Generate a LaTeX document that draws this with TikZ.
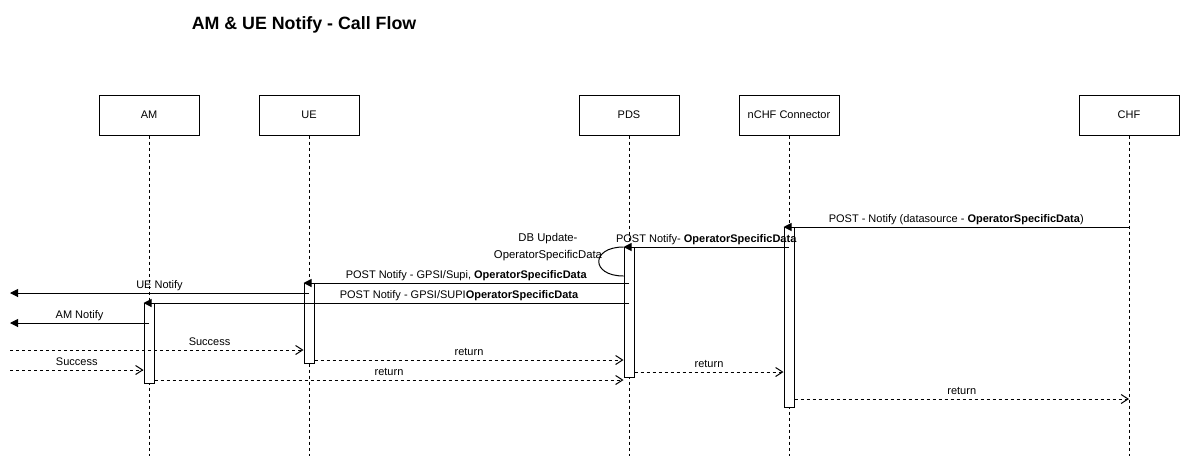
\documentclass[tikz,border=0pt]{standalone}
\usepackage{fontspec}
\setmainfont{Liberation Sans}
\usetikzlibrary{arrows.meta, positioning}

\begin{document}
\begin{tikzpicture}[
  x=1pt, y=-1pt,
  font=\fontsize{11}{13}\selectfont,
  actor/.style={rectangle, draw, line width=1pt, minimum width=100pt,
    minimum height=40pt, inner sep=0pt},
  act/.style={rectangle, draw, line width=1pt, fill=white, minimum width=10pt,
    inner sep=0pt, anchor=north},
  life/.style={line width=1pt, dash pattern=on 3pt off 3pt},
  msg/.style={-{Triangle[length=8pt, width=8pt]}, line width=1pt},
  ret/.style={-{Straight Barb[length=7pt, width=9pt, line width=1pt]}, line width=1pt,
    dash pattern=on 3pt off 3pt},
  lbl/.style={anchor=base, inner sep=0pt, yshift=4.5pt},
]
\useasboundingbox (0,0) rectangle (1180,456);

% Titel
\node[font=\fontsize{17.8}{20}\selectfont\bfseries] (title) at (304,25) {AM \& UE Notify - Call Flow};

% Teilnehmer
\node[actor] (am) at (149,115) {AM};
\node[actor] (ue) at (309,115) {UE};
\node[actor] (pds) at (629,115) {PDS};
\node[actor] (nchf) at (789,115) {nCHF Connector};
\node[actor] (chf) at (1129,115) {CHF};

% Lebenslinien
\foreach \p in {am, ue, pds, nchf, chf}
  \draw[life] (\p.south) -- (\p |- 0,456);

% Aktivierungen
\node[act, minimum height=180pt] (nchfAct) at (789,227) {};
\node[act, minimum height=130pt] (pdsAct) at (629,247) {};
\node[act, minimum height=80pt] (ueAct) at (309,283) {};
\node[act, minimum height=80pt] (amAct) at (149,303) {};

% freie Enden links
\coordinate (ueOut) at (10,293);
\coordinate (amOut) at (10,323);
\coordinate (ueIn) at (10,350);
\coordinate (amIn) at (10,370);
\path ([yshift=4pt]ueAct.south east) coordinate (ueRet);
\path ([yshift=4pt]amAct.south east) coordinate (amRet);
\path ([yshift=6pt]pdsAct.south east) coordinate (pdsRet);
\path ([yshift=9pt]nchfAct.south east) coordinate (nchfRet);
\path ([yshift=-29pt]pdsAct.north west) coordinate (dbEnd);

% Nachrichten
\draw[msg] (chf |- nchfAct.north) -- (nchfAct.north west)
  node[lbl, midway] {POST - Notify (datasource - \textbf{OperatorSpecificData})};
\draw[msg] (nchf |- pdsAct.north) -- (pdsAct.north west)
  node[lbl, midway] {POST Notify- \textbf{OperatorSpecificData}};
\draw[line width=1pt] (pdsAct.north west) .. controls +(-33,0) and +(-33,0) .. (dbEnd);
\node[align=center, font=\fontsize{11.3}{16.5}\selectfont, inner sep=0pt] (dbLbl) at (548,247)
  {DB Update-\\OperatorSpecificData};
\draw[msg] (pds |- ueAct.north) -- (ueAct.north west)
  node[lbl, midway] {POST Notify - GPSI/Supi, \textbf{OperatorSpecificData}};
\draw[msg] (ue |- ueOut) -- (ueOut) node[lbl, midway] {UE Notify};
\draw[msg] (pds |- amAct.north) -- (amAct.north west)
  node[lbl, pos=0.35] {POST Notify - GPSI/SUPI\textbf{OperatorSpecificData}};
\draw[msg] (am |- amOut) -- (amOut) node[lbl, midway] {AM Notify};

% Antworten
\draw[ret] (ueIn) -- (ueAct.west |- ueIn) node[lbl, pos=0.68] {Success};
\draw[ret] (amIn) -- (amAct.west |- amIn) node[lbl, midway] {Success};
\draw[ret] (ueRet) -- (ueRet -| pdsAct.west) node[lbl, midway] {return};
\draw[ret] (amRet) -- (amRet -| pdsAct.west) node[lbl, midway] {return};
\draw[ret] (pdsRet) -- (pdsRet -| nchfAct.west) node[lbl, midway] {return};
\draw[ret] (nchfRet) -- (nchfRet -| chf) node[lbl, midway] {return};

\end{tikzpicture}
\end{document}
